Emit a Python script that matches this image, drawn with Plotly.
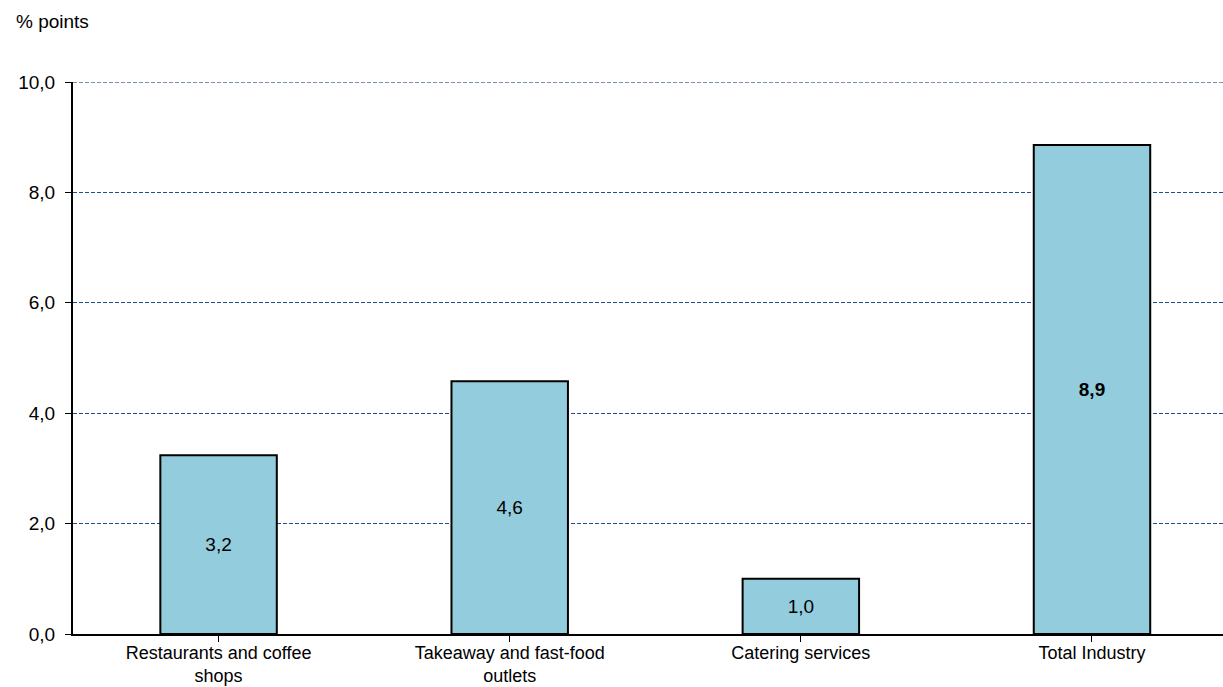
import plotly.graph_objects as go

categories = ["Restaurants and coffee<br>shops", "Takeaway and fast-food<br>outlets", "Catering services", "Total Industry"]
values = [3.24, 4.58, 1.0, 8.86]
y_ticks = [0, 2, 4, 6, 8, 10]

labels = [f"{v:.1f}".replace(".", ",") for v in values]
labels[-1] = f"<b>{labels[-1]}</b>"

FONT = "Liberation Sans, Arial"
FS = 19

fig = go.Figure(go.Bar(
    x=list(range(len(categories))), y=values,
    width=0.4,
    marker=dict(color="#93CDDD", line=dict(color="black", width=2)),
    text=labels, textposition="inside", insidetextanchor="middle",
    textfont=dict(family=FONT, size=FS, color="black"),
    constraintext="none",
))

fig.update_layout(
    width=1223, height=687,
    margin=dict(l=73, r=0, t=82, b=53),
    plot_bgcolor="white", paper_bgcolor="white",
    separators=",.",
    showlegend=False,
    font=dict(family=FONT, size=FS, color="black"),
)
fig.update_xaxes(
    range=[-0.5, 3.45], tickmode="array", tickvals=list(range(len(categories))),
    ticktext=categories, tickson="boundaries", ticks="outside", ticklen=6,
    tickcolor="black", showline=True, linecolor="black", linewidth=2,
    showgrid=False, zeroline=False, tickfont=dict(size=18), automargin=False,
    ticklabelstandoff=-5,
)
fig.update_yaxes(
    range=[0, 10], tickvals=y_ticks, tickformat=".1f", ticks="outside", ticklen=6,
    tickcolor="black", showline=True, linecolor="black", linewidth=2,
    showgrid=True, gridcolor="#1F4E8C", griddash="4px,2px", gridwidth=1.3,
    zeroline=False, tickfont=dict(size=FS), ticklabelstandoff=6, automargin=False,
)
fig.add_shape(type="line", xref="paper", yref="y", x0=0, x1=1, y0=10, y1=10,
              line=dict(color="#7F91AA", width=2, dash="4px,2px"), layer="below")
fig.add_annotation(text="% points", xref="paper", yref="paper", x=-0.0513, y=1.1087,
                   xanchor="left", yanchor="middle", showarrow=False,
                   font=dict(size=FS))
fig.write_html("out.html")
